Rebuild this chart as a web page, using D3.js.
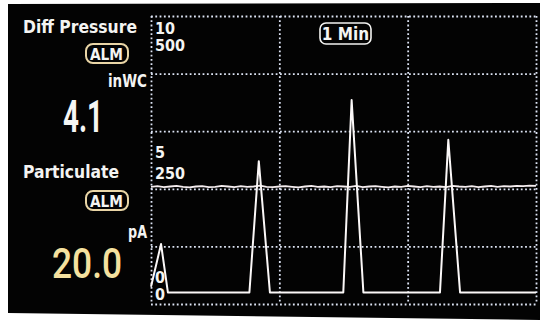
<!DOCTYPE html>
<html>
<head>
<meta charset="utf-8">
<script src="https://cdn.jsdelivr.net/npm/d3@7"></script>
<style>
  html, body { margin: 0; padding: 0; background: #fff; }
  svg { display: block; }
  .lbl { font-family: "DejaVu Sans Condensed", "DejaVu Sans", sans-serif; font-weight: bold; fill: #f4f4f2; }
</style>
</head>
<body>
<div id="chart"></div>
<script>
// time axis, seconds (1 min / division)
const timeTicks = [0, 60, 120, 180];

// Diff Pressure (inWC), sampled every 3 s
const pressureTimes = d3.range(0, 181, 3);
const pressureValues = [
  4.07, 4.09, 4.06, 4.08, 4.10, 4.07, 4.05, 4.08, 4.09, 4.06,
  4.07, 4.10, 4.08, 4.06, 4.09, 4.07, 4.08, 4.11, 4.07, 4.06,
  4.08, 4.09, 4.07, 4.05, 4.08, 4.10, 4.07, 4.08, 4.06, 4.09,
  4.08, 4.07, 4.10, 4.06, 4.08, 4.09, 4.07, 4.05, 4.08, 4.07,
  4.10, 4.08, 4.06, 4.09, 4.07, 4.08, 4.06, 4.10, 4.08, 4.07,
  4.09, 4.06, 4.08, 4.10, 4.07, 4.09, 4.08, 4.10, 4.09, 4.11, 4.10
];

// Particulate (pA)
const particulateTimes = [0, 4.7, 7.9, 46.0, 50.4, 55.6, 89.9, 93.8, 99.3, 135.1, 139.0, 144.5, 180];
const particulateValues = [30, 104, 20, 20, 248, 20, 20, 354, 20, 20, 285, 20, 20];

// axis labels
const pressureTicks = [0, 5, 10];
const particulateTicks = [0, 250, 500];

const width = 540;
const height = 320;
const plot = { left: 151, right: 536, top: 16, bottom: 304 };

const svg = d3.select('#chart')
  .append('svg')
  .attr('width', width)
  .attr('height', height);

// screen background (photo, slightly off square)
svg.append('path')
  .attr('d', 'M8,4 L540,3 L540,320 L8,313 Z')
  .attr('fill', '#030303');

const x = d3.scaleLinear().domain([0, 180]).range([plot.left, plot.right]);
const yP = d3.scaleLinear().domain([0, 10]).range([plot.bottom, plot.top]);
const yA = d3.scaleLinear().domain([0, 500]).range([plot.bottom, plot.top]);

// dotted grid
const gridColor = '#dde4f4';
const gx = svg.append('g')
  .attr('transform', `translate(0, ${plot.top})`)
  .call(d3.axisBottom(x).tickValues(timeTicks).tickSize(plot.bottom - plot.top).tickFormat(''));
const gy = svg.append('g')
  .attr('transform', `translate(${plot.left}, 0)`)
  .call(d3.axisRight(yP).ticks(4).tickSize(plot.right - plot.left).tickFormat(''));
[gx, gy].forEach(g => {
  g.select('.domain').remove();
  g.selectAll('.tick line')
    .attr('stroke', gridColor)
    .attr('stroke-width', 1.8)
    .attr('stroke-dasharray', '1.8,2.5');
});

// y labels (pressure / particulate pairs)
const pOffset = { 10: 18, 5: -2, 0: -21 };
const aOffset = { 500: 35, 250: 19, 0: -4 };
svg.selectAll('.ptick')
  .data(pressureTicks)
  .join('text')
  .attr('class', 'lbl ptick')
  .attr('x', plot.left + 4)
  .attr('y', d => yP(d) + pOffset[d])
  .attr('font-size', 16)
  .text(d => d);
svg.selectAll('.atick')
  .data(particulateTicks)
  .join('text')
  .attr('class', 'lbl atick')
  .attr('x', plot.left + 4)
  .attr('y', d => yA(d) + aOffset[d])
  .attr('font-size', 16)
  .text(d => d);

// traces
const line = d3.line().x(d => x(d[0]));

svg.append('path')
  .datum(d3.zip(pressureTimes, pressureValues))
  .attr('fill', 'none')
  .attr('stroke', '#f6eef0')
  .attr('stroke-width', 1.8)
  .attr('d', line.y(d => yP(d[1])));

svg.append('path')
  .datum(d3.zip(particulateTimes, particulateValues))
  .attr('fill', 'none')
  .attr('stroke', '#fbf8f8')
  .attr('stroke-width', 2)
  .attr('stroke-linejoin', 'round')
  .attr('d', line.y(d => yA(d[1])));

// "1 Min" badge
svg.append('rect')
  .attr('x', 320).attr('y', 23).attr('width', 51).attr('height', 21).attr('rx', 6)
  .attr('fill', 'none').attr('stroke', '#f4f4f2').attr('stroke-width', 1.6);
svg.append('text')
  .attr('class', 'lbl')
  .attr('x', 345.5).attr('y', 40)
  .attr('text-anchor', 'middle')
  .attr('font-size', 17)
  .text('1 Min');

// left readout panel
function label(txt, xPos, yPos, size, len, anchor) {
  return svg.append('text')
    .attr('class', 'lbl')
    .attr('x', xPos).attr('y', yPos)
    .attr('font-size', size)
    .attr('text-anchor', anchor || 'start')
    .attr('textLength', len)
    .attr('lengthAdjust', 'spacingAndGlyphs')
    .text(txt);
}

function alarm(yTop) {
  svg.append('rect')
    .attr('x', 86).attr('y', yTop).attr('width', 42).attr('height', 19).attr('rx', 7)
    .attr('fill', 'none').attr('stroke', '#e9d5a6').attr('stroke-width', 2);
  label('ALM', 90, yTop + 15.5, 16, 33);
}

label('Diff Pressure', 23, 33, 18, 114);
alarm(44);
label('inWC', 108, 87, 18, 39);
svg.append('text')
  .attr('x', 63).attr('y', 132)
  .attr('font-family', 'Roboto, "Liberation Sans", sans-serif')
  .attr('font-weight', 'bold')
  .attr('font-size', 44)
  .attr('fill', '#f6f6f4')
  .attr('textLength', 40)
  .attr('lengthAdjust', 'spacingAndGlyphs')
  .text('4.1');

label('Particulate', 23, 178, 18, 96);
alarm(191);
label('pA', 128, 238, 17, 19);
svg.append('text')
  .attr('x', 52).attr('y', 278)
  .attr('font-family', 'Roboto, "Liberation Sans", sans-serif')
  .attr('font-weight', 500)
  .attr('font-size', 43)
  .attr('fill', '#f5e19f')
  .attr('textLength', 70)
  .attr('lengthAdjust', 'spacingAndGlyphs')
  .text('20.0');
</script>
</body>
</html>
